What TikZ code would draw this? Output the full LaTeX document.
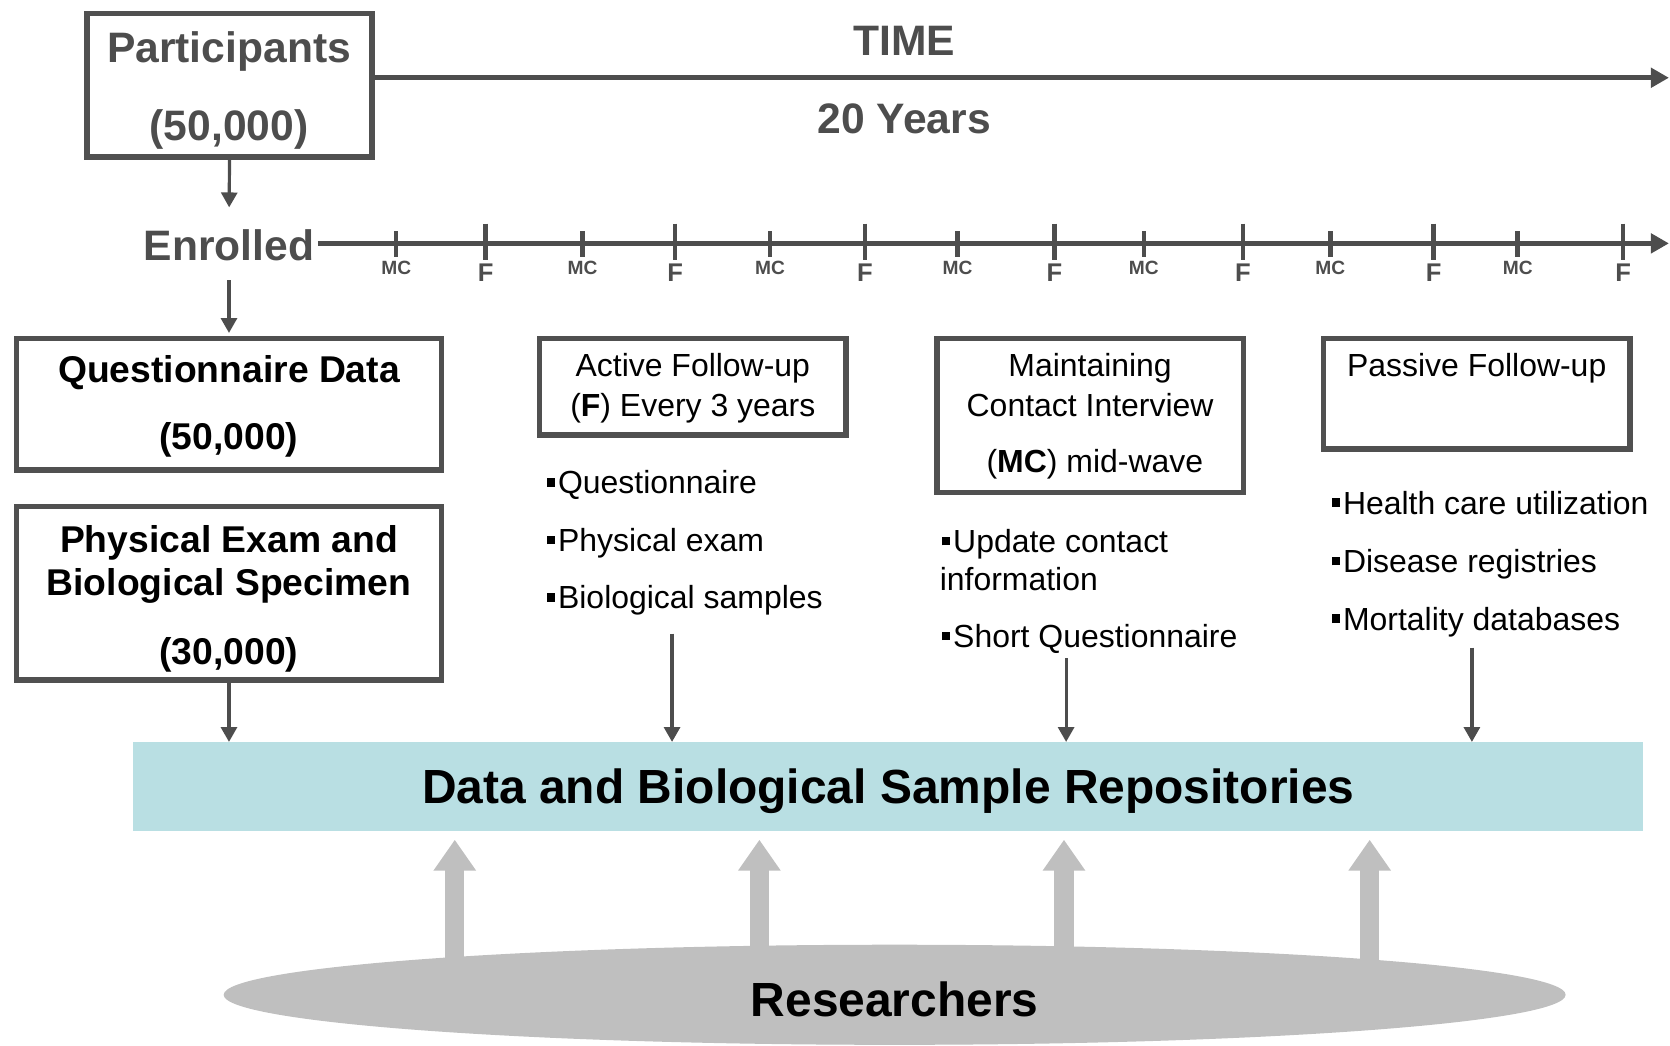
\documentclass[tikz,border=0pt]{standalone}
\usepackage{fontspec}
\setmainfont{Liberation Sans}
\usetikzlibrary{arrows.meta,shapes.geometric,backgrounds}
\definecolor{ink}{HTML}{4D4D4D}
\definecolor{boxline}{HTML}{505050}
\definecolor{repofill}{HTML}{B9DFE3}
\definecolor{crowd}{HTML}{BFBFBF}
% small square bullet, centred on the cap height of 15pt text
\newcommand{\sqbullet}{\rule[3.4pt]{4pt}{4pt}\hspace{1.3pt}}

\begin{document}
\begin{tikzpicture}[x=0.5pt,y=-0.5pt,
  headtxt/.style={inner sep=0pt, text=ink, font=\fontsize{20}{24}\selectfont\bfseries, text height=14.3pt, text depth=0pt},
  boxtxt/.style={inner sep=0pt, font=\fontsize{17.5}{21}\selectfont\bfseries, text height=12.5pt, text depth=0pt},
  bodytxt/.style={inner sep=0pt, font=\fontsize{15}{18}\selectfont, text height=10.74pt, text depth=0pt},
  bigtxt/.style={inner sep=0pt, font=\fontsize{22.5}{27}\selectfont\bfseries, text height=16.1pt, text depth=0pt},
  frame/.style={draw=boxline, line width=2.6pt, inner sep=0pt},
  conn/.style={draw=ink, line width=1.5pt, -{Triangle[length=7pt,width=7.5pt]}},
  axis/.style={draw=ink, line width=2.5pt, -{Triangle[length=8.5pt,width=9pt]}},
  tickmark/.style={draw=ink, line width=2.1pt},
  mclab/.style={inner sep=0pt, text=ink, font=\fontsize{9}{10}\selectfont\bfseries, text height=6.44pt, text depth=0pt},
  flab/.style={inner sep=0pt, text=ink, font=\fontsize{12}{14}\selectfont\bfseries, text height=8.6pt, text depth=0pt},
  uparrow/.style={draw=crowd, line width=9pt, -{Triangle[length=14.5pt,width=19pt]}},
]
\useasboundingbox (0,0) rectangle (1568,982);

% ---- cohort and time axis ----
\node[frame, minimum width=133.9pt, minimum height=67.4pt] (part) at (215.5,80) {};
\node[headtxt] (partA) at (215,44.5) {Participants};
\node[headtxt] (partB) at (215,118) {(50,000)};

\node[headtxt] (time) at (849,38) {TIME};
\node[headtxt] (years) at (849,111) {20 Years};
\coordinate (timeend) at (1567,73);
\draw[axis] (part.east |- timeend) -- (timeend);

\node[headtxt] (enr) at (215,230) {Enrolled};
\draw[conn, shorten >=10.3pt] (part.south) -- (enr.north);

\coordinate (tlend) at (1567,228.5);
\draw[axis, shorten <=1.5pt] (enr.east |- tlend) -- (tlend);

% mid-wave contacts and follow-up waves
\foreach \x [count=\i] in {372,547,723,899,1074,1249,1425} {
  \draw[tickmark] (\x,217) -- (\x,241);
  \node[mclab] (mc\i) at (\x,251) {MC};
}
\foreach \x [count=\i] in {456,634,812,990,1167,1346,1524} {
  \draw[tickmark] (\x,210) -- (\x,244);
  \node[flab] (f\i) at (\x,256) {F};
}

% ---- baseline data ----
\node[frame, minimum width=199.4pt, minimum height=61.9pt] (qbox) at (215,379.5) {};
\node[boxtxt] at (215,347) {Questionnaire Data};
\node[boxtxt] at (215,410) {(50,000)};
\draw[conn, shorten <=9.3pt, shorten >=1.2pt] (enr.south) -- (qbox.north);

\node[frame, minimum width=199.4pt, minimum height=81.4pt] (phys) at (215,557) {};
\node[boxtxt] at (215,506) {Physical Exam and};
\node[boxtxt] at (215,547) {Biological Specimen};
\node[boxtxt] at (215,611) {(30,000)};

% ---- active follow-up ----
\node[frame, minimum width=143.9pt, minimum height=45.4pt] (act) at (650.5,363) {};
\node[bodytxt] at (650.5,343) {Active Follow-up};
\node[bodytxt] at (650.5,380) {(\textbf{F}) Every 3 years};
\node[bodytxt, anchor=west] (actA) at (513,453) {\sqbullet Questionnaire};
\node[bodytxt, anchor=west] (actB) at (513,507) {\sqbullet Physical exam};
\node[bodytxt, anchor=west] (actC) at (513,561) {\sqbullet Biological samples};

% ---- maintaining contact ----
\node[frame, minimum width=143.9pt, minimum height=72.4pt] (mcb) at (1023.5,390) {};
\node[bodytxt] at (1023.5,343) {Maintaining};
\node[bodytxt] at (1023.5,380) {Contact Interview};
\node[bodytxt] at (1028,433) {(\textbf{MC}) mid-wave};
\node[bodytxt, anchor=west] (mcA) at (884,508) {\sqbullet Update contact};
\node[bodytxt, anchor=west] (mcB) at (882,544) {information};
\node[bodytxt, anchor=west] (mcC) at (884,597) {\sqbullet Short Questionnaire};

% ---- passive follow-up ----
\node[frame, minimum width=143.9pt, minimum height=51.9pt] (pas) at (1386.5,369.5) {};
\node[bodytxt] at (1386.5,343) {Passive Follow-up};
\node[bodytxt, anchor=west] (pasA) at (1250,472) {\sqbullet Health care utilization};
\node[bodytxt, anchor=west] (pasB) at (1250,527) {\sqbullet Disease registries};
\node[bodytxt, anchor=west] (pasC) at (1250,581) {\sqbullet Mortality databases};

% ---- repositories ----
\node[fill=repofill, minimum width=709pt, minimum height=41.5pt, inner sep=0pt,
      font=\fontsize{22.5}{27}\selectfont\bfseries, text height=16.1pt, text depth=0pt] (repo) at (834,738.5)
      {Data and Biological Sample Repositories};

\coordinate (actout) at (631,595);
\coordinate (mcout) at (1001,618);
\coordinate (pasout) at (1382,608);
\draw[conn] (phys.south) -- (phys.south |- repo.north);
\draw[conn] (actout) -- (actout |- repo.north);
\draw[conn] (mcout) -- (mcout |- repo.north);
\draw[conn] (pasout) -- (pasout |- repo.north);

% ---- researchers ----
\node[ellipse, fill=crowd, minimum width=630pt, minimum height=47pt, inner sep=0pt] (res) at (840,934) {};
\node[bigtxt] (restxt) at (840,938) {Researchers};

\begin{scope}[on background layer]
  \foreach \x [count=\i] in {427,713,999,1286} {
    \coordinate (use\i) at (\x,910);
    \draw[uparrow, shorten >=4pt] (use\i) -- (use\i |- repo.south);
  }
\end{scope}
\end{tikzpicture}
\end{document}
